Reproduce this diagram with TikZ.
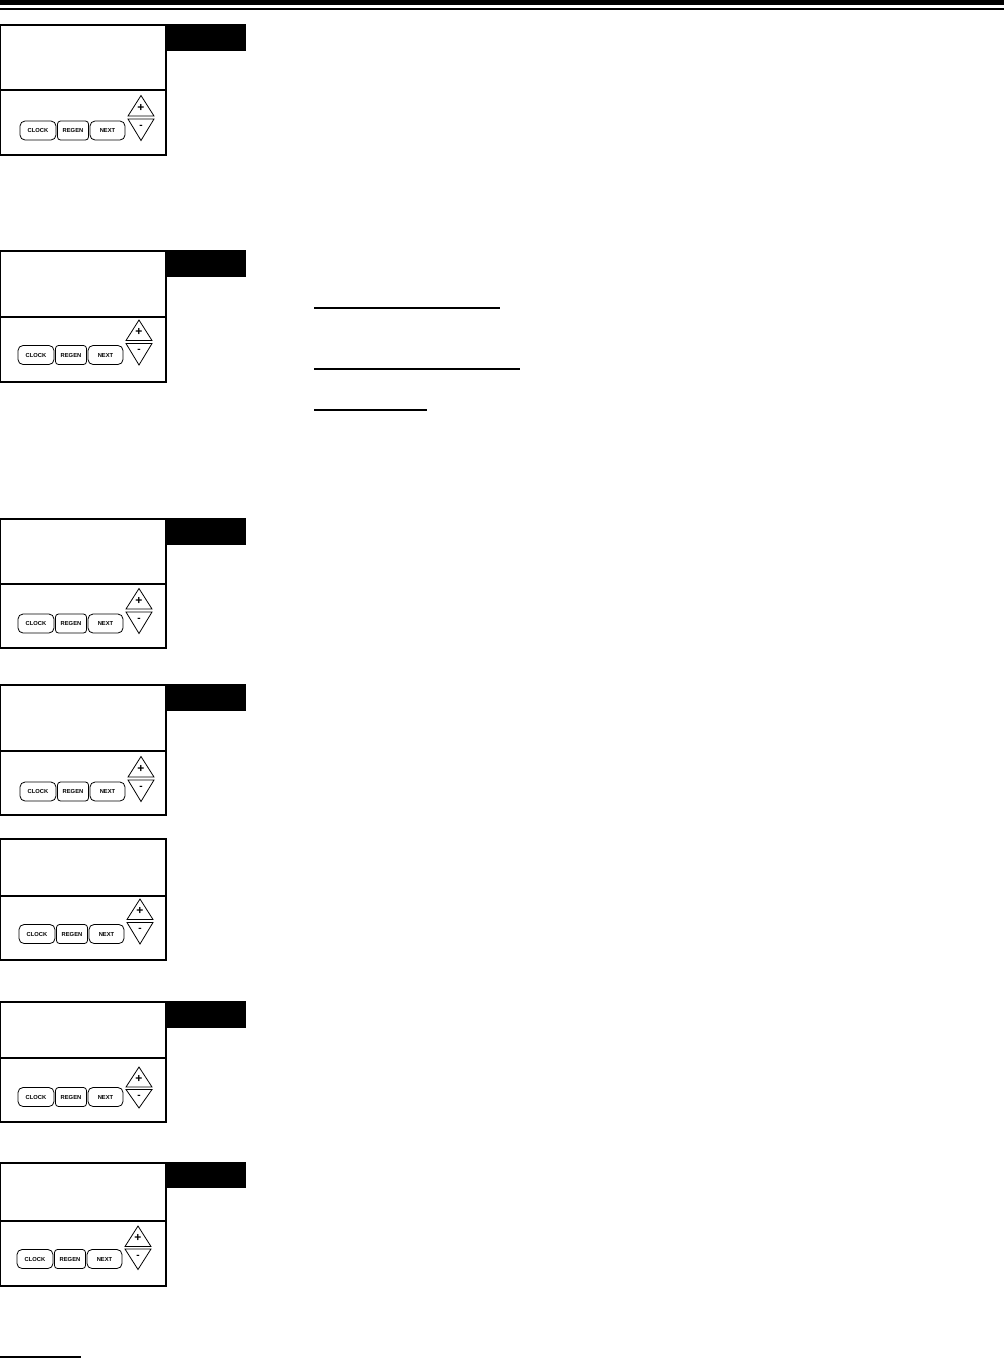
\documentclass[tikz,border=0pt]{standalone}
\usepackage{fontspec}
\newfontfamily\keyfont{Liberation Sans}
\usepackage{tikz}

\tikzset{
  frame/.style={line width=1.2pt},
  btn/.style={draw,line width=0.8pt,rounded corners=5pt,minimum height=19,inner sep=0pt,
    font=\keyfont\bfseries\fontsize{5.8}{6}\selectfont},
  tri/.style={line width=0.8pt,line join=miter},
  plus/.style={inner sep=0pt,font=\keyfont\bfseries\fontsize{12}{12}\selectfont},
  minus/.style={inner sep=0pt,font=\keyfont\bfseries\fontsize{10}{10}\selectfont},
  rule/.style={line width=1.5pt}
}

\begin{document}
\begin{tikzpicture}[x=1pt,y=-1pt]
\useasboundingbox (0,0) rectangle (1008,1360);

% Header rules
\fill (0,0) rectangle (1004,5);
\fill (0,8) rectangle (1004,10);

% Panel 1
\draw[frame] (0.6,25) rectangle (166,155);
\draw[frame] (0.6,90) -- (166,90);
\fill (166,24) rectangle (246,51);
\node[btn,minimum width=36] (clock1) at (38,130.5) {CLOCK};
\node[btn,minimum width=31,rounded corners=3pt] (regen1) at (73,130.5) {REGEN};
\node[btn,minimum width=35] (next1) at (107.5,130.5) {NEXT};
\draw[tri] (128,116) -- (141,95.5) -- (154,116) -- cycle;
\draw[tri] (128,119) -- (154,119) -- (141,140.5) -- cycle;
\node[plus] (plus1) at (141,107.5) {+};
\node[minus] (minus1) at (141,126.5) {-};

% Panel 2
\draw[frame] (0.6,251) rectangle (166,382);
\draw[frame] (0.6,317) -- (166,317);
\fill (166,250) rectangle (246,277);
\node[btn,minimum width=36] (clock2) at (36,355) {CLOCK};
\node[btn,minimum width=31,rounded corners=3pt] (regen2) at (71,355) {REGEN};
\node[btn,minimum width=35] (next2) at (105.5,355) {NEXT};
\draw[tri] (126,340.5) -- (139,320) -- (152,340.5) -- cycle;
\draw[tri] (126,343.5) -- (152,343.5) -- (139,365) -- cycle;
\node[plus] (plus2) at (139,332) {+};
\node[minus] (minus2) at (139,351) {-};

% Underlines beside panel 2
\draw[rule] (314,308) -- (500,308);
\draw[rule] (314,369) -- (520,369);
\draw[rule] (314,410) -- (427,410);

% Panel 3
\draw[frame] (0.6,519) rectangle (166,648);
\draw[frame] (0.6,584) -- (166,584);
\fill (166,518) rectangle (246,545);
\node[btn,minimum width=36] (clock3) at (36,623.5) {CLOCK};
\node[btn,minimum width=31,rounded corners=3pt] (regen3) at (71,623.5) {REGEN};
\node[btn,minimum width=35] (next3) at (105.5,623.5) {NEXT};
\draw[tri] (126,609) -- (139,588.5) -- (152,609) -- cycle;
\draw[tri] (126,612) -- (152,612) -- (139,633.5) -- cycle;
\node[plus] (plus3) at (139,600.5) {+};
\node[minus] (minus3) at (139,619.5) {-};

% Panel 4
\draw[frame] (0.6,685) rectangle (166,815);
\draw[frame] (0.6,751) -- (166,751);
\fill (166,684) rectangle (246,711);
\node[btn,minimum width=36] (clock4) at (38,791.5) {CLOCK};
\node[btn,minimum width=31,rounded corners=3pt] (regen4) at (73,791.5) {REGEN};
\node[btn,minimum width=35] (next4) at (107.5,791.5) {NEXT};
\draw[tri] (128,777) -- (141,756.5) -- (154,777) -- cycle;
\draw[tri] (128,780) -- (154,780) -- (141,801.5) -- cycle;
\node[plus] (plus4) at (141,768.5) {+};
\node[minus] (minus4) at (141,787.5) {-};

% Panel 5 (no tag)
\draw[frame] (0.6,839) rectangle (166,960);
\draw[frame] (0.6,896) -- (166,896);
\node[btn,minimum width=36] (clock5) at (37,934) {CLOCK};
\node[btn,minimum width=31,rounded corners=3pt] (regen5) at (72,934) {REGEN};
\node[btn,minimum width=35] (next5) at (106.5,934) {NEXT};
\draw[tri] (127,919.5) -- (140,899) -- (153,919.5) -- cycle;
\draw[tri] (127,922.5) -- (153,922.5) -- (140,944) -- cycle;
\node[plus] (plus5) at (140,911) {+};
\node[minus] (minus5) at (140,930) {-};

% Panel 6
\draw[frame] (0.6,1002) rectangle (166,1122);
\draw[line width=2pt] (0.6,1058) -- (166,1058);
\fill (166,1001) rectangle (246,1028);
\node[btn,minimum width=36] (clock6) at (36,1097) {CLOCK};
\node[btn,minimum width=31,rounded corners=3pt] (regen6) at (71,1097) {REGEN};
\node[btn,minimum width=35] (next6) at (105.5,1097) {NEXT};
\draw[tri] (126,1087) -- (139,1067) -- (152,1087) -- cycle;
\draw[tri] (126,1089.5) -- (152,1089.5) -- (139,1108) -- cycle;
\node[plus] (plus6) at (139,1078.5) {+};
\node[minus] (minus6) at (139,1097) {-};

% Panel 7
\draw[frame] (0.6,1163) rectangle (166,1286);
\draw[frame] (0.6,1221) -- (166,1221);
\fill (166,1162) rectangle (246,1188);
\node[btn,minimum width=36] (clock7) at (35,1259) {CLOCK};
\node[btn,minimum width=31,rounded corners=3pt] (regen7) at (70,1259) {REGEN};
\node[btn,minimum width=35] (next7) at (104.5,1259) {NEXT};
\draw[tri] (125,1246.5) -- (138,1226) -- (151,1246.5) -- cycle;
\draw[tri] (125,1249) -- (151,1249) -- (138,1269.5) -- cycle;
\node[plus] (plus7) at (138,1238) {+};
\node[minus] (minus7) at (138,1256.5) {-};

% Footnote rule
\draw[rule] (0,1357) -- (81,1357);

\end{tikzpicture}
\end{document}
